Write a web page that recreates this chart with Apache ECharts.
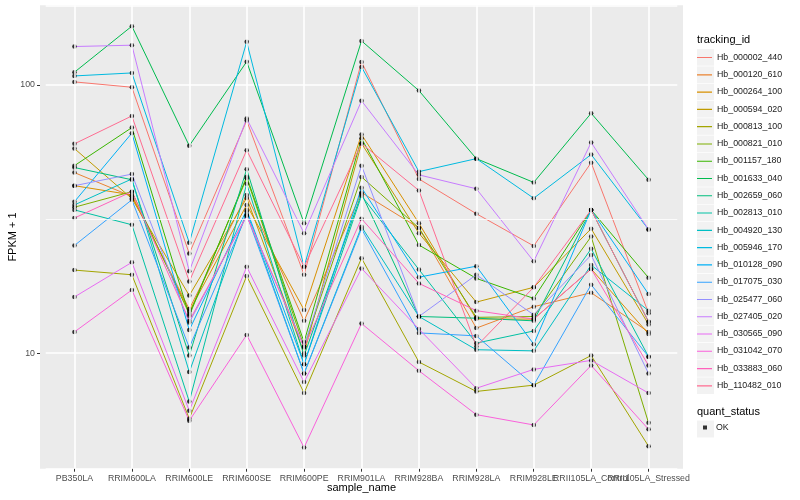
<!DOCTYPE html>
<html><head><meta charset="utf-8">
<script src="https://cdn.jsdelivr.net/npm/echarts@6/dist/echarts.min.js"></script>
<style>html,body{margin:0;padding:0;background:#fff}#c{width:800px;height:500px}</style>
</head><body><div id="c"></div>
<script>
const categories = ['PB350LA','RRIM600LA','RRIM600LE','RRIM600SE','RRIM600PE','RRIM901LA','RRIM928BA','RRIM928LA','RRIM928LE','RRII105LA_Control','RRII105LA_Stressed'];
const trackingIds = ['Hb_000002_440','Hb_000120_610','Hb_000264_100','Hb_000594_020','Hb_000813_100','Hb_000821_010','Hb_001157_180','Hb_001633_040','Hb_002659_060','Hb_002813_010','Hb_004920_130','Hb_005946_170','Hb_010128_090','Hb_017075_030','Hb_025477_060','Hb_027405_020','Hb_030565_090','Hb_031042_070','Hb_033883_060','Hb_110482_010'];
const colors = ['#F8766D','#EA8331','#D89000','#C09B00','#A3A500','#7CAE00','#39B600','#00BB4E','#00BF7D','#00C1A3','#00BFC4','#00BAE0','#00B0F6','#35A2FF','#9590FF','#C77CFF','#E76BF3','#FA62DB','#FF62BC','#FF6C91'];
const yTicks = [10, 100];

const Hb_000002_440 = [102.6, 98, 23.5, 73.6, 19.6, 121.8, 44.6, 33.1, 25.1, 51.3, 14.1];
const Hb_000120_610 = [47.1, 38.4, 14.6, 38.9, 13.2, 39.7, 29.3, 12.4, 14.9, 16.8, 12.0];
const Hb_000264_100 = [42.1, 38.9, 14.3, 35.7, 14.5, 65.3, 30.5, 13.4, 13.4, 20.6, 11.8];
const Hb_000594_020 = [57.9, 37.7, 16.4, 37.9, 10.0, 60.5, 28.0, 15.5, 17.6, 29.1, 12.8];
const Hb_000813_100 = [20.4, 19.6, 5.7, 19.4, 7.1, 22.6, 9.27, 7.2, 7.6, 9.8, 4.5];
const Hb_000821_010 = [35.0, 40.0, 14.0, 44.9, 10.6, 45.4, 29.3, 13.6, 13.7, 27.2, 5.5];
const Hb_001157_180 = [50.0, 69.3, 13.8, 45.5, 11.0, 63.2, 25.3, 19.0, 16.0, 34.2, 19.1];
const Hb_001633_040 = [111.5, 165.5, 59.3, 122.1, 30.5, 145.9, 95.2, 53.1, 43.3, 78.4, 44.3];
const Hb_002659_060 = [49.2, 44.3, 9.8, 48.5, 9.8, 39.3, 13.7, 13.5, 13.2, 34.2, 13.1];
const Hb_002813_010 = [34.2, 30.1, 6.6, 42.8, 9.1, 38.6, 20.5, 10.9, 12.1, 24.5, 9.7];
const Hb_004920_130 = [35.7, 44.6, 8.5, 33.7, 8.4, 29.6, 13.7, 10.3, 10.2, 21.3, 14.4];
const Hb_005946_170 = [108, 110.8, 25.8, 144.7, 21.0, 116.7, 47.5, 53.1, 37.8, 55.0, 28.9];
const Hb_010128_090 = [36.7, 66.1, 12.2, 34.2, 9.1, 41.4, 19.2, 21.1, 10.8, 34.2, 16.6];
const Hb_017075_030 = [25.2, 37.3, 10.5, 32.8, 8.4, 29.1, 11.9, 11.6, 7.6, 18.0, 9.7];
const Hb_025477_060 = [42.1, 46.5, 13.0, 32.5, 10.6, 50.0, 13.7, 19.6, 13.9, 23.2, 8.4];
const Hb_027405_020 = [139, 140.6, 20.2, 75, 28.0, 87.2, 46.2, 41.0, 22.0, 61.0, 28.9];
const Hb_030565_090 = [16.2, 21.8, 6.1, 21.0, 7.8, 20.7, 12.3, 7.4, 8.7, 9.4, 7.1];
const Hb_031042_070 = [12.0, 17.2, 5.6, 11.7, 4.45, 12.9, 8.6, 5.9, 5.4, 9.0, 5.2];
const Hb_033883_060 = [31.9, 40.0, 13.2, 32.5, 10.5, 31.7, 18.2, 14.4, 13.4, 20.6, 9.0];
const Hb_110482_010 = [60.3, 76.6, 18.5, 57.1, 21.0, 60.5, 40.4, 10.6, 17.6, 34.2, 13.1];

const seriesValues = [Hb_000002_440, Hb_000120_610, Hb_000264_100, Hb_000594_020, Hb_000813_100, Hb_000821_010, Hb_001157_180, Hb_001633_040, Hb_002659_060, Hb_002813_010, Hb_004920_130, Hb_005946_170, Hb_010128_090, Hb_017075_030, Hb_025477_060, Hb_027405_020, Hb_030565_090, Hb_031042_070, Hb_033883_060, Hb_110482_010];

const FONT = '"Liberation Sans", Arial, sans-serif';
const chart = echarts.init(document.getElementById('c'), null, {renderer: 'canvas'});
const LINE_ICON = 'path://M0,0L0.01,0Z M0,8.2L15,8.2L15,9.3L0,9.3Z M0,17L0.01,17Z';

const lineSeries = trackingIds.map((id, i) => ({
  name: id, type: 'line', data: seriesValues[i], symbol: 'none', showSymbol: false,
  lineStyle: {width: 1, color: colors[i]}, itemStyle: {color: colors[i]},
  z: 2, animation: false, emphasis: {disabled: true}, silent: true
}));
const pts = [];
seriesValues.forEach(arr => arr.forEach((v, j) => pts.push([j, v])));

const STEP = 17.28, TOP0 = 48.8;
const keyRects = trackingIds.map((id, i) => ({
  type: 'rect', left: 697, top: TOP0 + i * STEP + 0.3, shape: {width: 17, height: 16.6},
  style: {fill: '#F2F2F2'}, z: -5, silent: true
}));

chart.setOption({
  animation: false,
  backgroundColor: '#ffffff',
  grid: {left: 45.74, right: 122.74, top: 5.3, bottom: 31.3, containLabel: false, outerBoundsMode: 'none'},
  xAxis: {
    type: 'category', data: categories, boundaryGap: true,
    name: 'sample_name', nameLocation: 'middle', nameGap: 14, nameMoveOverlap: false,
    nameTextStyle: {fontSize: 11, color: '#000', fontFamily: FONT},
    axisLine: {show: false},
    axisTick: {show: true, alignWithLabel: true, length: 3, lineStyle: {color: '#333333'}},
    axisLabel: {interval: 0, fontSize: 8.8, color: '#4D4D4D', margin: 5, fontFamily: FONT, hideOverlap: false},
    splitLine: {show: false}
  },
  yAxis: {
    type: 'log', logBase: 10, min: 3.71, max: 198, offset: 5.74,
    name: 'FPKM + 1', nameLocation: 'middle', nameGap: 22, nameRotate: 90, nameMoveOverlap: false,
    nameTextStyle: {fontSize: 11, color: '#000', fontFamily: FONT},
    axisLine: {show: false},
    axisTick: {show: true, length: 3, lineStyle: {color: '#333333'}},
    axisLabel: {fontSize: 8.8, color: '#4D4D4D', margin: 5, fontFamily: FONT, showMinLabel: false, showMaxLabel: false,
      formatter: v => (yTicks.indexOf(Math.round(v)) >= 0 ? String(Math.round(v)) : '')},
    splitLine: {show: true, lineStyle: {color: '#ffffff', width: 1.6}},
    minorSplitLine: {show: false}
  },
  legend: [{
    orient: 'vertical', left: 697, top: TOP0, itemWidth: 15, itemHeight: 17, itemGap: 0.28, padding: 0,
    icon: LINE_ICON,
    data: trackingIds.map(n => ({name: n, icon: LINE_ICON})), selectedMode: false,
    textStyle: {fontSize: 8.8, color: '#1A1A1A', fontFamily: FONT}
  }, {
    orient: 'vertical', left: 703, top: 423, itemWidth: 4, itemHeight: 4, padding: 0,
    data: [{name: 'OK', icon: 'rect'}], selectedMode: false,
    textStyle: {fontSize: 8.8, color: '#1A1A1A', fontFamily: FONT, padding: [0, 0, 0, 4]}
  }],
  graphic: [
    {type: 'rect', left: 40, top: 5.3, shape: {width: 643, height: 463.4}, style: {fill: '#EBEBEB'}, z: -10, silent: true},
    {type: 'text', left: 697, top: 34, style: {text: 'tracking_id', fontSize: 11, fill: '#000', fontFamily: FONT}, z: 5},
    {type: 'text', left: 697, top: 406, style: {text: 'quant_status', fontSize: 11, fill: '#000', fontFamily: FONT}, z: 5},
    {type: 'rect', left: 697, top: 420.5, shape: {width: 17, height: 17}, style: {fill: '#F2F2F2'}, z: -5, silent: true}
  ].concat(keyRects),
  series: [{
    name: 'grid', type: 'line', data: [], z: 1, silent: true,
    markLine: {
      silent: true, symbol: 'none', animation: false, label: {show: false},
      lineStyle: {color: '#ffffff', width: 1.6, type: 'solid'},
      data: categories.map(c => ({xAxis: c})).concat([{yAxis: 31.62, lineStyle: {color: '#ffffff', width: 0.8, type: 'solid'}}])
    }
  }].concat(lineSeries).concat([{
    name: 'OK', type: 'scatter', data: pts, symbol: 'circle', symbolSize: 4.5,
    itemStyle: {color: '#000000', borderWidth: 0}, z: 4, silent: true, animation: false
  }])
});
</script></body></html>
